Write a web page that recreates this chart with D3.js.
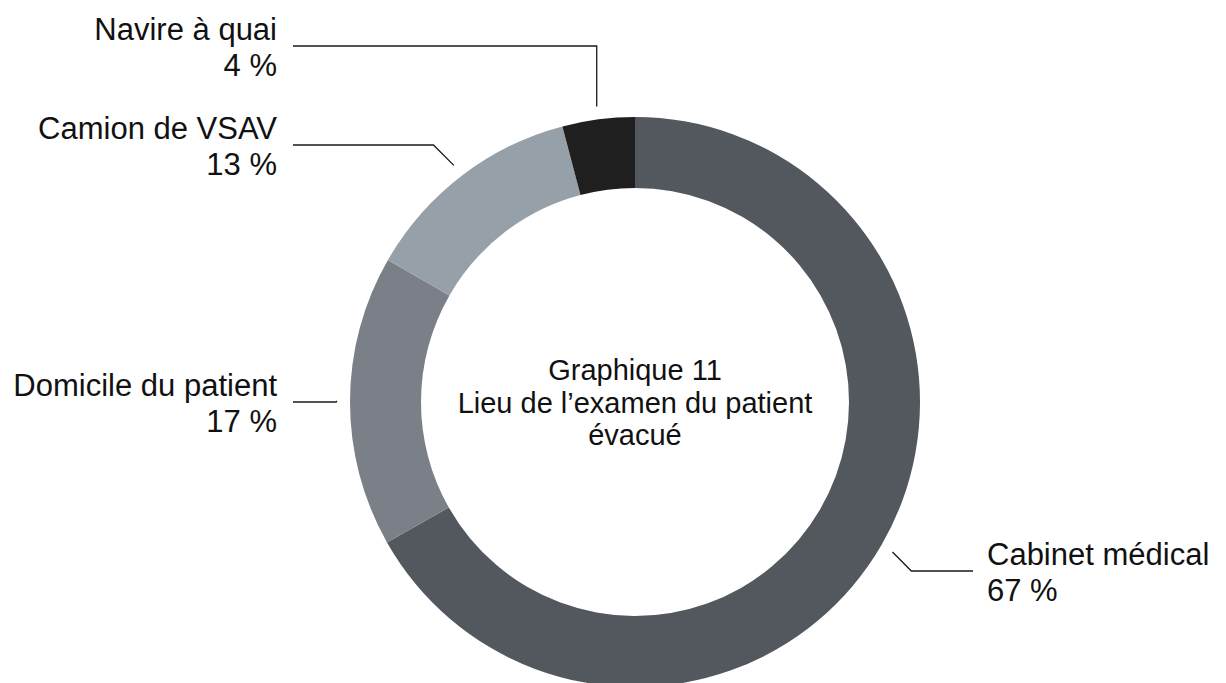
<!DOCTYPE html>
<html>
<head>
<meta charset="utf-8">
<script src="https://cdn.jsdelivr.net/npm/d3@7"></script>
<style>
  html, body { margin: 0; padding: 0; background: #ffffff; }
  svg { display: block; }
</style>
</head>
<body>
<svg id="chart" width="1226" height="683"></svg>
<script>
// ---- data ----
const categories = ["Cabinet médical", "Domicile du patient", "Camion de VSAV", "Navire à quai"];
const values = [66.8, 16.5, 12.6, 4.1];
const percentLabels = ["67 %", "17 %", "13 %", "4 %"];
const titleLines = ["Graphique 11", "Lieu de l’examen du patient", "évacué"];

// ---- styles / layout ----
const colors = ["#53575e", "#7a7f88", "#96a0a9", "#1f1f1f"];
const layout = [
  { lineY: 571, endX: 973, bend: "diag", anchor: "start", textX: 987 },
  { lineY: 402, endX: 293, bend: "diag", anchor: "end", textX: 277 },
  { lineY: 145, endX: 293, bend: "diag", anchor: "end", textX: 277 },
  { lineY: 46,  endX: 293, bend: "vertical", anchor: "end", textX: 277 }
];
const W = 1226, H = 683;
const cx = 635, cy = 402;
const outerR = 285, innerR = 214, leaderR = 298;
const fontFamily = "'Liberation Sans', Arial, Helvetica, sans-serif";

const svg = d3.select("#chart");
const g = svg.append("g").attr("transform", `translate(${cx},${cy})`);

const data = categories.map((c, i) => ({ name: c, value: values[i], label: percentLabels[i], i }));

const pie = d3.pie().sort(null).value(d => d.value).startAngle(0).endAngle(2 * Math.PI);
const arcs = pie(data);

const arc = d3.arc().innerRadius(innerR).outerRadius(outerR);
const leaderArc = d3.arc().innerRadius(leaderR).outerRadius(leaderR);

g.selectAll("path.slice")
  .data(arcs)
  .enter()
  .append("path")
  .attr("class", "slice")
  .attr("d", arc)
  .attr("fill", d => colors[d.data.i]);

// leader lines
arcs.forEach(d => {
  const L = layout[d.data.i];
  const [sx, sy] = leaderArc.centroid(d);
  const ly = L.lineY - cy;
  const ex = L.endX - cx;
  let elbow;
  if (L.bend === "vertical") {
    elbow = [sx, ly];
  } else {
    const sign = ex < sx ? -1 : 1;
    elbow = [sx + sign * Math.abs(ly - sy), ly];
  }
  const line = d3.line();
  g.append("path")
    .attr("d", line([[sx, sy], elbow, [ex, ly]]))
    .attr("fill", "none")
    .attr("stroke", "#1a1a1a")
    .attr("stroke-width", 1.3);

  const t = svg.append("text")
    .attr("x", L.textX)
    .attr("y", L.lineY - 6)
    .attr("text-anchor", L.anchor)
    .attr("font-family", fontFamily)
    .attr("font-size", 31)
    .attr("fill", "#111");
  t.append("tspan").attr("x", L.textX).attr("y", L.lineY - 6).text(d.data.name);
  t.append("tspan").attr("x", L.textX).attr("y", L.lineY + 30).text(d.data.label);
});

// center title
const title = svg.append("text")
  .attr("text-anchor", "middle")
  .attr("font-family", fontFamily)
  .attr("font-size", 29)
  .attr("fill", "#111");
titleLines.forEach((t, k) => {
  title.append("tspan").attr("x", cx).attr("y", 380 + k * 32.5).text(t);
});
</script>
</body>
</html>
